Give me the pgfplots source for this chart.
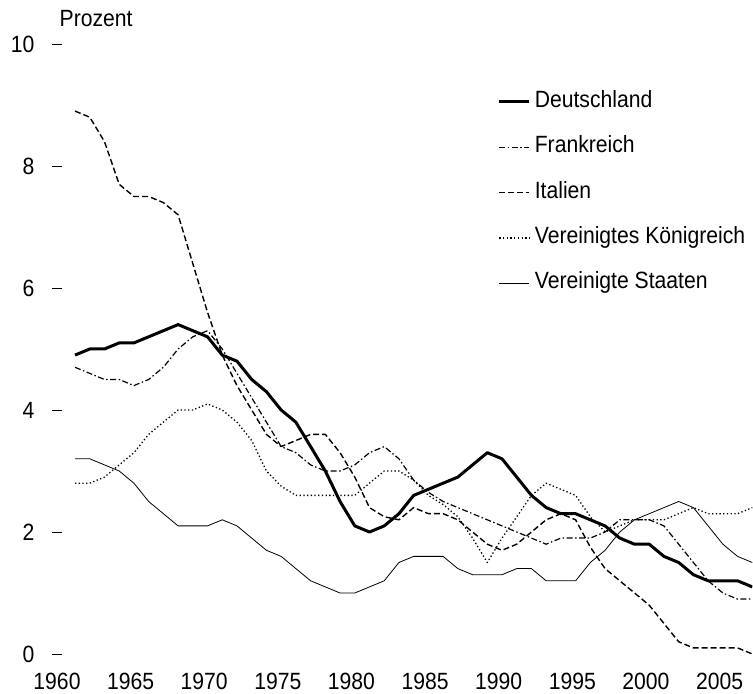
\documentclass[border=0pt]{standalone}
\usepackage{fontspec}
\setmainfont{Liberation Sans}[FakeStretch=0.9]
\usepackage{pgfplots}
\pgfplotsset{compat=1.18}
\usepackage{pgfplotstable}

\pgfplotstableread{
year DE FR IT UK US
1961 4.9 4.7 8.9 2.8 3.2
1962 5.0 4.6 8.8 2.8 3.2
1963 5.0 4.5 8.4 2.9 3.1
1964 5.1 4.5 7.7 3.1 3.0
1965 5.1 4.4 7.5 3.3 2.8
1966 5.2 4.5 7.5 3.6 2.5
1967 5.3 4.7 7.4 3.8 2.3
1968 5.4 5.0 7.2 4.0 2.1
1969 5.3 5.2 6.4 4.0 2.1
1970 5.2 5.3 5.6 4.1 2.1
1971 4.9 5.0 4.9 4.0 2.2
1972 4.8 4.6 4.4 3.8 2.1
1973 4.5 4.2 4.0 3.5 1.9
1974 4.3 3.8 3.6 3.0 1.7
1975 4.0 3.4 3.4 2.75 1.6
1976 3.8 3.3 3.5 2.6 1.4
1977 3.4 3.1 3.6 2.6 1.2
1978 3.0 3.0 3.6 2.6 1.1
1979 2.5 3.0 3.3 2.6 1.0
1980 2.1 3.1 2.9 2.6 1.0
1981 2.0 3.3 2.4 2.8 1.1
1982 2.1 3.4 2.25 3.0 1.2
1983 2.3 3.2 2.2 3.0 1.5
1984 2.6 2.85 2.4 2.85 1.6
1985 2.7 2.65 2.3 2.6 1.6
1986 2.8 2.5 2.3 2.45 1.6
1987 2.9 2.4 2.2 2.25 1.4
1988 3.1 2.3 2.0 1.9 1.3
1989 3.3 2.2 1.8 1.5 1.3
1990 3.2 2.1 1.7 1.9 1.3
1991 2.9 2.0 1.8 2.25 1.4
1992 2.6 1.9 2.0 2.6 1.4
1993 2.4 1.8 2.2 2.8 1.2
1994 2.3 1.9 2.3 2.7 1.2
1995 2.3 1.9 2.2 2.6 1.2
1996 2.2 1.9 1.75 2.25 1.5
1997 2.1 2.0 1.4 2.0 1.7
1998 1.9 2.2 1.2 2.1 2.0
1999 1.8 2.2 1.0 2.2 2.2
2000 1.8 2.2 0.8 2.2 2.3
2001 1.6 2.1 0.5 2.2 2.4
2002 1.5 1.8 0.2 2.3 2.5
2003 1.3 1.5 0.1 2.4 2.4
2004 1.2 1.2 0.1 2.3 2.1
2005 1.2 1.0 0.1 2.3 1.8
2006 1.2 0.9 0.1 2.3 1.6
2007 1.1 0.9 0.0 2.4 1.5
}\data

\newcommand{\chartfont}{\fontsize{23.5bp}{27bp}\selectfont}

\begin{document}
\begin{tikzpicture}
\useasboundingbox (0,0) rectangle (753bp,694bp);
\begin{axis}[
  at={(57bp,40bp)}, anchor=south west,
  scale only axis, width=695.3bp, height=610bp,
  xmin=1959.775, xmax=2007, ymin=0, ymax=10,
  clip mode=individual,
  axis lines*=left, axis line style={draw=none},
  xtick={1959.775,1964.775,1969.775,1974.775,1979.775,1984.775,1989.775,1994.775,1999.775,2004.775},
  xticklabels={1960,1965,1970,1975,1980,1985,1990,1995,2000,2005},
  xtick style={draw=none},
  ytick={0,2,4,6,8,10},
  ytick style={black, line width=0.8bp},
  tick align=center, major tick length=10bp,
  tick label style={font=\chartfont},
  /pgf/number format/assume math mode=true,
  yticklabel style={xshift=-14bp},
  xticklabel style={yshift=-10.5bp},
  legend cell align=left,
  legend style={at={(rel axis cs:0.634,0.9225)}, anchor=north west, draw=none, fill=none,
    inner sep=0pt, outer sep=0pt, row sep=24.4bp, column sep=4bp, font=\chartfont,
    nodes={inner sep=0pt, text height=16bp, text depth=5bp}},
  legend image code/.code={\draw[#1] (0bp,0bp) -- (30bp,0bp);},
  every axis plot/.append style={line join=round},
]
\addplot[black, line width=3bp] table[x=year, y=DE] {\data};
\addlegendentry{Deutschland}
\addplot[black, line width=1.2bp, dash pattern=on 6bp off 2.5bp on 1.5bp off 2.5bp] table[x=year, y=FR] {\data};
\addlegendentry{Frankreich}
\addplot[black, line width=1.4bp, dash pattern=on 6bp off 3bp] table[x=year, y=IT] {\data};
\addlegendentry{Italien}
\addplot[black, line width=1.3bp, dash pattern=on 1.3bp off 2.4bp] table[x=year, y=UK] {\data};
\addlegendentry{Vereinigtes Königreich}
\addplot[black, line width=0.8bp] table[x=year, y=US] {\data};
\addlegendentry{Vereinigte Staaten}
\node[anchor=base west, inner sep=0pt, font=\chartfont] at (rel axis cs:0,1) [xshift=2.5bp, yshift=17bp] {Prozent};
\end{axis}
\end{tikzpicture}
\end{document}
